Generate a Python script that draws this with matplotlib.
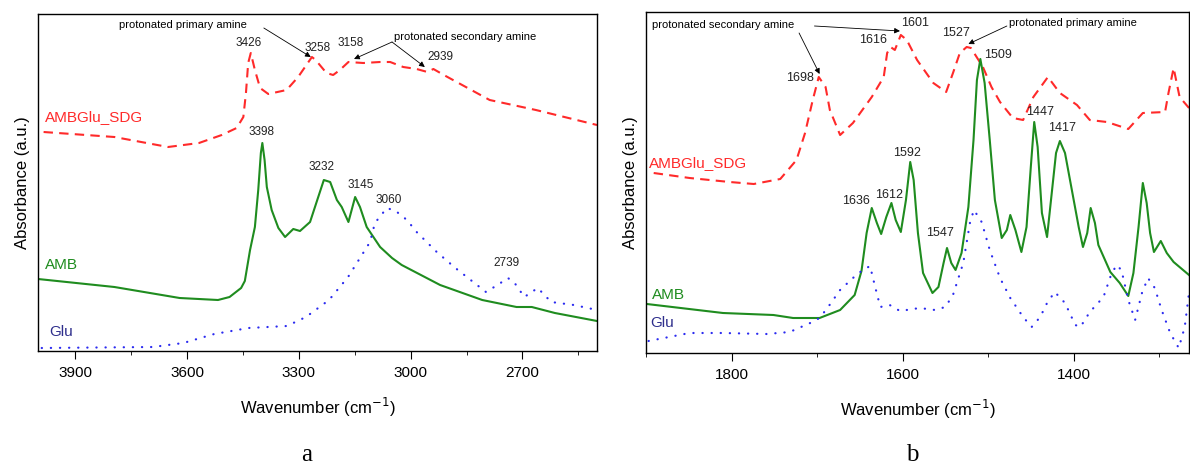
import matplotlib
matplotlib.use("Agg")
import matplotlib.pyplot as plt
from matplotlib.ticker import MultipleLocator

plt.rcParams['font.family'] = ['Liberation Sans', 'DejaVu Sans']

RED = '#ff2a2a'
GREEN = '#1f8c1f'
BLUE = '#2b2bf0'
NAVY = '#2e2e8c'

# ---- panel a: 4000-2500 cm-1 ----
sdg_a_x = [3985, 3795, 3651, 3568, 3507, 3467, 3449, 3442, 3436, 3429, 3418, 3404, 3382, 3333,
           3302, 3265, 3255, 3226, 3208, 3190, 3167, 3127, 3082, 3055, 3020, 2984, 2955, 2939,
           2911, 2788, 2664, 2500]
sdg_a_y = [219, 214, 204, 208, 216, 223, 234, 258, 288, 298, 281, 263, 257, 261,
           274, 294, 291, 278, 276, 281, 289, 288, 289, 289, 284, 282, 279, 282,
           276, 251, 241, 226]

amb_a_x = [4000, 3795, 3620, 3517, 3486, 3455, 3445, 3431, 3418, 3409, 3402, 3398, 3392, 3386,
           3373, 3355, 3337, 3315, 3297, 3270, 3248, 3233, 3216, 3198, 3185, 3167, 3149, 3136,
           3118, 3082, 3050, 3024, 2921, 2808, 2716, 2675, 2613, 2500]
amb_a_y = [72, 64, 53, 51, 54, 63, 70, 101, 124, 161, 198, 208, 191, 164,
           141, 123, 114, 122, 120, 129, 154, 171, 169, 151, 144, 129, 154, 144,
           124, 104, 93, 86, 66, 51, 44, 44, 38, 30]

glu_a_x = [3990, 3692, 3610, 3527, 3435, 3332, 3281, 3219, 3168, 3109, 3096, 3064, 3040, 3010,
           2984, 2930, 2880, 2798, 2767, 2739, 2721, 2695, 2659, 2623, 2562, 2500]
glu_a_y = [3, 4, 8, 17, 23, 25, 34, 51, 74, 109, 128, 143, 140, 131,
           119, 99, 83, 59, 66, 73, 68, 54, 63, 49, 46, 41]

# ---- panel b: 1900-1265 cm-1 ----
sdg_b_x = [1891, 1849, 1802, 1774, 1743, 1724, 1714, 1705, 1698, 1690, 1685, 1673, 1658, 1636,
           1622, 1618, 1614, 1609, 1602, 1595, 1583, 1564, 1549, 1541, 1533, 1525, 1520, 1506,
           1496, 1486, 1471, 1459, 1447, 1430, 1416, 1396, 1381, 1361, 1336, 1319, 1293, 1289,
           1283, 1276, 1265]
sdg_b_y = [180, 175, 171, 169, 174, 193, 220, 253, 276, 266, 243, 218, 230, 256,
           276, 300, 306, 303, 318, 313, 293, 270, 261, 280, 300, 306, 305, 286,
           266, 251, 235, 233, 256, 276, 260, 248, 233, 231, 224, 240, 241, 260,
           285, 256, 245]

amb_b_x = [1899, 1810, 1751, 1728, 1697, 1673, 1656, 1648, 1642, 1636, 1630, 1625, 1619, 1613,
           1608, 1602, 1596, 1591, 1587, 1582, 1576, 1565, 1558, 1552, 1548, 1543, 1538, 1531,
           1523, 1517, 1513, 1509, 1504, 1498, 1492, 1484, 1478, 1474, 1468, 1461, 1455, 1450,
           1446, 1442, 1437, 1431, 1426, 1420.5, 1416, 1410, 1402, 1394, 1389, 1384, 1380, 1375,
           1371, 1357, 1346, 1336, 1330, 1324, 1319, 1314.5, 1310.5, 1306, 1298, 1291, 1283, 1265]
amb_b_y = [49, 40, 38, 35, 35, 43, 58, 82, 120, 145, 130, 119, 136, 150,
           133, 121, 153, 191, 173, 120, 80, 60, 66, 90, 105, 90, 83, 100,
           146, 213, 273, 294, 270, 213, 153, 115, 123, 138, 123, 101, 126, 186,
           231, 206, 140, 116, 156, 200, 212, 200, 163, 126, 106, 120, 145, 130,
           108, 81, 70, 57, 80, 126, 170, 150, 120, 101, 112, 100, 91, 78]

glu_b_x = [1897, 1849, 1810, 1759, 1732, 1708, 1697, 1687, 1673, 1658, 1648, 1638, 1632, 1626,
           1615, 1603, 1580, 1562, 1550, 1541, 1529, 1521, 1516.5, 1507.5, 1498, 1486, 1474, 1459,
           1449, 1439, 1431, 1422, 1410, 1398, 1392, 1381, 1365, 1357, 1350, 1344, 1336, 1328,
           1320, 1313, 1305, 1297, 1287, 1277, 1270, 1265]
glu_b_y = [12, 20, 20, 19, 21, 30, 35, 46, 63, 75, 82, 87, 66, 46,
           48, 42, 45, 43, 46, 58, 90, 131, 143, 131, 103, 75, 55, 36,
           26, 36, 50, 61, 50, 28, 26, 41, 56, 76, 88, 83, 53, 33,
           60, 75, 65, 43, 20, 5, 26, 60]

# peak labels: (text, x, y)
peaks_a = [('3426', 3435, 308), ('3258', 3250, 303), ('3158', 3160, 308), ('2939', 2920, 294),
           ('3398', 3400, 219), ('3232', 3238, 184), ('3145', 3133, 166), ('3060', 3058, 151),
           ('2739', 2742, 88)]
peaks_b = [('1698', 1720, 275), ('1616', 1635, 313), ('1601', 1585, 330), ('1527', 1537, 320),
           ('1509', 1488, 298), ('1447', 1439, 241), ('1417', 1413, 225), ('1592', 1595, 200),
           ('1636', 1655, 152), ('1612', 1616, 158), ('1547', 1556, 120)]


def draw_spectra(ax, sdg, amb, glu):
    ax.plot(*sdg, color=RED, lw=1.5, dashes=(4.5, 3))
    ax.plot(*amb, color=GREEN, lw=1.5)
    ax.plot(*glu, color=BLUE, lw=1.6, dashes=(0.1, 4), dash_capstyle='round')


def style_axes(ax):
    ax.set_yticks([])
    ax.tick_params(axis='x', which='major', direction='out', length=6, labelsize=11, pad=5)
    ax.tick_params(axis='x', which='minor', direction='out', length=3)
    ax.set_xlabel('Wavenumber (cm$^{-1}$)', fontsize=12, labelpad=11)
    ax.set_ylabel('Absorbance (a.u.)', fontsize=12, labelpad=6)
    for s in ax.spines.values():
        s.set_linewidth(1.0)


def arrow(ax, start, end):
    ax.annotate('', xy=end, xytext=start,
                arrowprops=dict(arrowstyle='-|>', color='k', lw=0.6, mutation_scale=8,
                                shrinkA=0, shrinkB=0))


fig = plt.figure(figsize=(11.9, 4.7), dpi=100)
ax_a = fig.add_axes([38 / 1190, 1 - 351 / 470, 559 / 1190, 337 / 470])
ax_b = fig.add_axes([646 / 1190, 1 - 353 / 470, 543 / 1190, 341 / 470])

# panel a
draw_spectra(ax_a, (sdg_a_x, sdg_a_y), (amb_a_x, amb_a_y), (glu_a_x, glu_a_y))
ax_a.set_xlim(4000, 2500)
ax_a.set_ylim(0, 337)
ax_a.xaxis.set_major_locator(MultipleLocator(300))
ax_a.xaxis.set_minor_locator(MultipleLocator(150))
style_axes(ax_a)
for t, x, y in peaks_a:
    ax_a.text(x, y, t, fontsize=8.5, ha='center', va='center', color='#222222')
ax_a.text(3980, 234, 'AMBGlu_SDG', color=RED, fontsize=11, va='center')
ax_a.text(3980, 86, 'AMB', color=GREEN, fontsize=11, va='center')
ax_a.text(3970, 19, 'Glu', color=NAVY, fontsize=11, va='center')
ax_a.text(3612, 326, 'protonated primary amine', fontsize=8, ha='center', va='center')
arrow(ax_a, (3394, 323), (3268, 294))
ax_a.text(3046, 314, 'protonated secondary amine', fontsize=8, ha='left', va='center')
arrow(ax_a, (3050, 309), (3152, 292))
arrow(ax_a, (3050, 309), (2962, 284))

# panel b
draw_spectra(ax_b, (sdg_b_x, sdg_b_y), (amb_b_x, amb_b_y), (glu_b_x, glu_b_y))
ax_b.set_xlim(1900, 1265)
ax_b.set_ylim(0, 341)
ax_b.xaxis.set_major_locator(MultipleLocator(200))
ax_b.xaxis.set_minor_locator(MultipleLocator(100))
style_axes(ax_b)
for t, x, y in peaks_b:
    ax_b.text(x, y, t, fontsize=9, ha='center', va='center', color='#222222')
ax_b.text(1897, 190, 'AMBGlu_SDG', color=RED, fontsize=11, va='center')
ax_b.text(1893, 58, 'AMB', color=GREEN, fontsize=11, va='center')
ax_b.text(1895, 30, 'Glu', color=NAVY, fontsize=11, va='center')
ax_b.text(1893, 328, 'protonated secondary amine', fontsize=8, ha='left', va='center')
arrow(ax_b, (1703, 327), (1603, 322))
arrow(ax_b, (1721, 320), (1697, 279))
ax_b.text(1475, 330, 'protonated primary amine', fontsize=8, ha='left', va='center')
arrow(ax_b, (1478, 327), (1523, 309))

# panel letters
fig.text(307 / 1190, 1 - 455 / 470, 'a', family=['Liberation Serif'], fontsize=18, ha='center', va='center')
fig.text(912 / 1190, 1 - 455 / 470, 'b', family=['Liberation Serif'], fontsize=18, ha='center', va='center')

fig.savefig('out.png', dpi=100)
